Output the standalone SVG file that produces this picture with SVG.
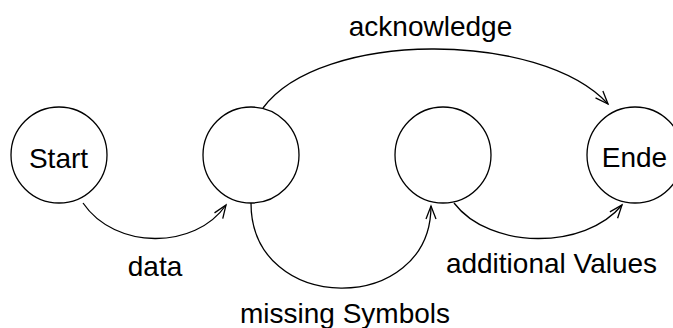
<svg xmlns="http://www.w3.org/2000/svg" width="673" height="328" viewBox="0 0 673 328">
  <style>
    .state { fill: #ffffff; stroke: #000000; stroke-width: 1.3; }
    .edge { fill: none; stroke: #000000; stroke-width: 1.3; marker-end: url(#open-arrow); }
    .label { font-family: "Liberation Sans", Arial, sans-serif; font-size: 28px; fill: #000000; text-anchor: middle; }
  </style>
  <defs>
    <marker id="open-arrow" markerUnits="userSpaceOnUse" markerWidth="16" markerHeight="12" refX="0" refY="0" viewBox="-14 -6 16 12" orient="auto" overflow="visible">
      <path d="M-13,-5 L0,0 L-13,5" fill="none" stroke="#000000" stroke-width="1.3"/>
    </marker>
  </defs>
  <rect width="673" height="328" fill="#ffffff"/>

  <!-- transitions -->
  <g id="connectors">
    <path id="e-data" class="edge" d="M83,203 C115,250 195,250 226,205"/>
    <path id="e-missing" class="edge" d="M251,203 C251,316 431,316 431,206"/>
    <path id="e-additional" class="edge" d="M454,203 C490,250 585,250 622,205"/>
    <path id="e-ack" class="edge" d="M263,108 C320,30 540,30 608,104"/>
    <text class="label" x="155" y="276">data</text>
    <text class="label" x="345" y="323">missing Symbols</text>
    <text class="label" x="551.5" y="273">additional Values</text>
    <text class="label" x="430.5" y="36">acknowledge</text>
  </g>

  <!-- states -->
  <g id="start">
    <circle class="state" cx="59" cy="155" r="48"/>
    <text class="label" x="58.5" y="168">Start</text>
  </g>
  <g id="s1">
    <circle class="state" cx="251" cy="155" r="48"/>
  </g>
  <g id="s2">
    <circle class="state" cx="443" cy="155" r="48"/>
  </g>
  <g id="ende">
    <circle class="state" cx="635" cy="155" r="48"/>
    <text class="label" x="634.5" y="167">Ende</text>
  </g>
</svg>
